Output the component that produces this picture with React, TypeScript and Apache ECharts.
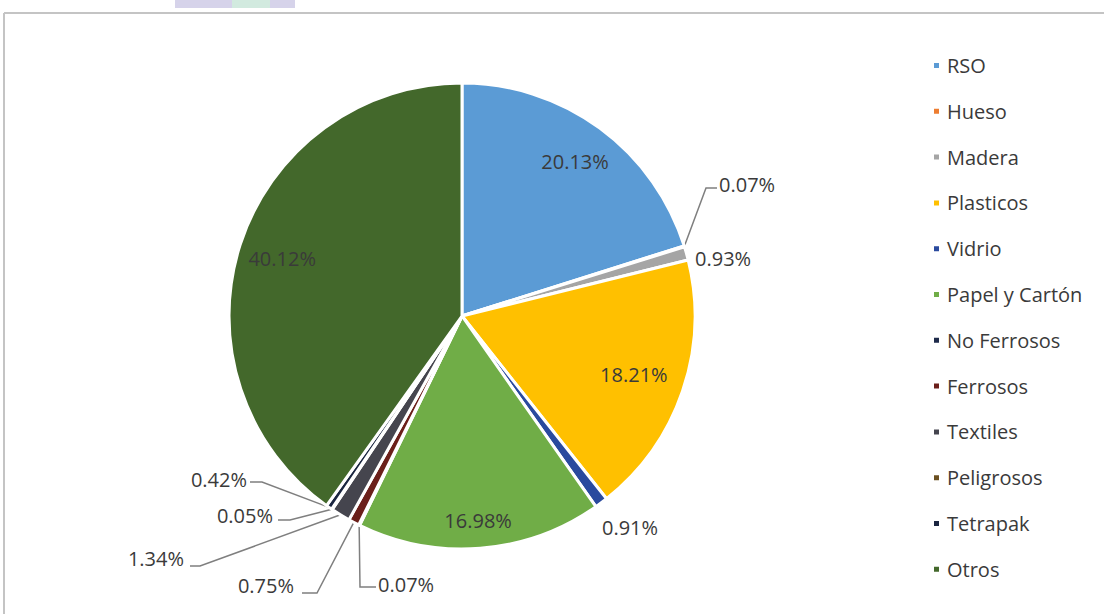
import React, { useEffect, useRef } from "react";
import * as echarts from "echarts";

const categories = [
  "RSO",
  "Hueso",
  "Madera",
  "Plasticos",
  "Vidrio",
  "Papel y Cartón",
  "No Ferrosos",
  "Ferrosos",
  "Textiles",
  "Peligrosos",
  "Tetrapak",
  "Otros",
];

const values = [20.13, 0.07, 0.93, 18.21, 0.91, 16.98, 0.07, 0.75, 1.34, 0.05, 0.42, 40.12];

const colors = [
  "#5B9BD5",
  "#ED7D31",
  "#A5A5A5",
  "#FFC000",
  "#2A4A9E",
  "#70AD47",
  "#1E2A4A",
  "#6B1F1A",
  "#45454E",
  "#6B5020",
  "#1A2540",
  "#43682B",
];

const CX = 462;
const CY = 316;
const R = 233;
const FONT = "Open Sans";

// Which labels sit inside the slice, and at what fraction of the radius
const insideRatio: Record<number, number> = { 0: 0.8, 3: 0.76, 5: 0.86, 11: 0.79 };

// Outside label placement (layout only)
const outsideLabels: Record<number, { x: number; y: number; align: string; line?: number[][] }> = {
  1: { x: 719, y: 184, align: "left", line: [[706, 188], [717, 188]] },
  2: { x: 695, y: 258, align: "left" },
  4: { x: 630, y: 527, align: "center" },
  6: { x: 378, y: 584, align: "left", line: [[360, 587], [376, 587]] },
  7: { x: 294, y: 585, align: "right", line: [[317, 593], [302, 593]] },
  8: { x: 184, y: 558, align: "right", line: [[200, 566], [190, 566]] },
  9: { x: 273, y: 515, align: "right", line: [[290, 520], [278, 520]] },
  10: { x: 247, y: 479, align: "right", line: [[262, 482], [250, 482]] },
};

export default function App() {
  const ref = useRef<HTMLDivElement>(null);

  useEffect(() => {
    if (!ref.current) return;
    const chart = echarts.init(ref.current, null, { renderer: "svg" });

    const data = categories.map((name, i) => {
      const inside = insideRatio[i] != null;
      const out = outsideLabels[i];
      return {
        name,
        value: values[i],
        itemStyle: { color: colors[i] },
        label: { position: inside ? "inside" : "outside" },
        labelLine: { show: !inside && !!(out && out.line) },
      };
    });

    chart.setOption({
      animation: false,
      backgroundColor: "#ffffff",
      graphic: [
        // faded watermark at the very top
        { type: "rect", shape: { x: 175, y: 0, width: 120, height: 8 }, style: { fill: "#d6d3ea" }, silent: true },
        { type: "rect", shape: { x: 232, y: 0, width: 38, height: 8 }, style: { fill: "#d2eadf" }, silent: true },
        // frame
        { type: "line", shape: { x1: 4, y1: 13, x2: 1104, y2: 13 }, style: { stroke: "#c4c4c4", lineWidth: 2 }, silent: true },
        { type: "line", shape: { x1: 4, y1: 13, x2: 4, y2: 614 }, style: { stroke: "#c4c4c4", lineWidth: 2 }, silent: true },
      ],
      legend: {
        orient: "vertical",
        left: 927,
        top: 50,
        itemWidth: 7,
        itemHeight: 7,
        itemGap: 24.8,
        icon: "rect",
        data: categories,
        textStyle: {
          fontFamily: FONT,
          fontSize: 20,
          lineHeight: 21,
          color: "#3a3a3a",
          padding: [0, 0, 0, 2],
        },
      },
      series: [
        {
          type: "pie",
          center: [CX, CY],
          radius: [0, R],
          startAngle: 90,
          clockwise: true,
          avoidLabelOverlap: false,
          itemStyle: { borderColor: "#ffffff", borderWidth: 3 },
          emphasis: { disabled: true },
          label: {
            show: true,
            formatter: (p: any) => p.value.toFixed(2) + "%",
            fontFamily: FONT,
            fontSize: 20,
            color: "#3a3a3a",
          },
          labelLine: {
            lineStyle: { color: "#7f7f7f", width: 1.5 },
            length: 10,
            length2: 10,
          },
          labelLayout: (p: any) => {
            const i = p.dataIndex;
            const out = outsideLabels[i];
            if (out) {
              const res: any = { x: out.x, y: out.y, align: out.align, verticalAlign: "middle" };
              if (out.line && p.labelLinePoints && p.labelLinePoints[0]) {
                res.labelLinePoints = [p.labelLinePoints[0], ...out.line];
              }
              return res;
            }
            const k = insideRatio[i];
            if (k != null && p.labelRect) {
              const lx = p.labelRect.x + p.labelRect.width / 2;
              const ly = p.labelRect.y + p.labelRect.height / 2;
              const s = k / 0.5;
              return {
                x: CX + (lx - CX) * s,
                y: CY + (ly - CY) * s,
                align: "center",
                verticalAlign: "middle",
              };
            }
            return {};
          },
          data,
        },
      ],
    });

    return () => chart.dispose();
  }, []);

  return (
    <div
      ref={ref}
      style={{ position: "fixed", left: 0, top: 0, width: 1104, height: 614 }}
    />
  );
}
